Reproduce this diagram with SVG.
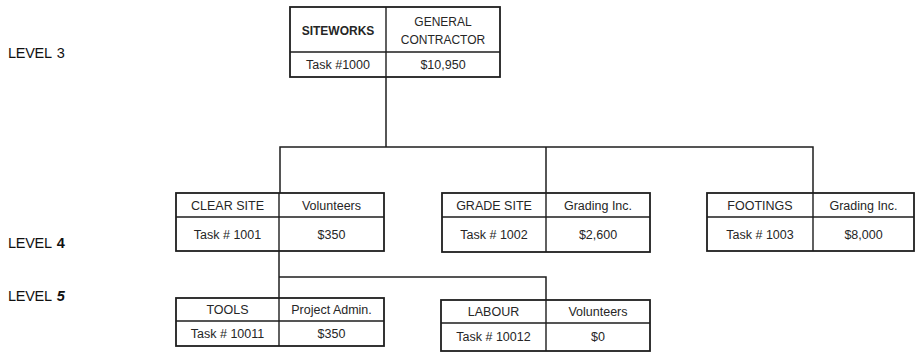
<svg xmlns="http://www.w3.org/2000/svg" width="916" height="357" viewBox="0 0 916 357">
  <style>
    .box { fill: #ffffff; stroke: #1e1e1e; stroke-width: 1.8; }
    .rule { stroke: #1e1e1e; stroke-width: 1.4; fill: none; }
    .wire { stroke: #1e1e1e; stroke-width: 1.5; fill: none; }
    .t { font-family: "Liberation Sans", Arial, sans-serif; font-size: 12.5px; fill: #262626; text-anchor: middle; }
    .tb { font-weight: bold; font-size: 12px; }
    .s12 { font-size: 12px; }
    .lvl { font-family: "Liberation Sans", Arial, sans-serif; font-size: 14.5px; fill: #111; letter-spacing: -0.3px; word-spacing: 2px; }
  </style>
  <rect x="0" y="0" width="916" height="357" fill="#ffffff"/>

  <!-- level labels -->
  <text class="lvl" x="8" y="58">LEVEL 3</text>
  <text class="lvl" x="8" y="248">LEVEL <tspan font-weight="bold">4</tspan></text>
  <text class="lvl" x="8" y="301">LEVEL <tspan font-weight="bold" font-style="italic">5</tspan></text>

  <!-- connectors -->
  <g id="connectors">
    <path class="wire" d="M386 77 V147"/>
    <path class="wire" d="M280 193 V147 H813 V193"/>
    <path class="wire" d="M546 147 V193"/>
    <path class="wire" d="M279 251 V298"/>
    <path class="wire" d="M279 277 H546 V300"/>
  </g>

  <!-- level 3 -->
  <g id="siteworks">
    <rect class="box" x="290" y="7" width="210" height="70"/>
    <path class="rule" d="M386 7 V77 M290 52 H500"/>
    <text class="t tb" x="338" y="35">SITEWORKS</text>
    <text class="t s12" x="443" y="26">GENERAL</text>
    <text class="t s12" x="443" y="44">CONTRACTOR</text>
    <text class="t" x="338" y="69">Task #1000</text>
    <text class="t" x="443" y="69">$10,950</text>
  </g>

  <!-- level 4 -->
  <g id="clear-site">
    <rect class="box" x="176" y="193" width="208" height="58"/>
    <path class="rule" d="M279 193 V251 M176 217 H384"/>
    <text class="t" x="227.5" y="210">CLEAR SITE</text>
    <text class="t" x="331.5" y="210">Volunteers</text>
    <text class="t" x="227.5" y="239">Task # 1001</text>
    <text class="t" x="331.5" y="239">$350</text>
  </g>

  <g id="grade-site">
    <rect class="box" x="442" y="193" width="208" height="59"/>
    <path class="rule" d="M546 193 V252 M442 217 H650"/>
    <text class="t" x="494" y="210">GRADE SITE</text>
    <text class="t" x="598" y="210">Grading Inc.</text>
    <text class="t" x="494" y="239">Task # 1002</text>
    <text class="t" x="598" y="239">$2,600</text>
  </g>

  <g id="footings">
    <rect class="box" x="707" y="193" width="207" height="58"/>
    <path class="rule" d="M813 193 V251 M707 217 H914"/>
    <text class="t" x="760" y="210">FOOTINGS</text>
    <text class="t" x="863.5" y="210">Grading Inc.</text>
    <text class="t" x="760" y="239">Task # 1003</text>
    <text class="t" x="863.5" y="239">$8,000</text>
  </g>

  <!-- level 5 -->
  <g id="tools">
    <rect class="box" x="176" y="298" width="208" height="48"/>
    <path class="rule" d="M279 298 V346 M176 321 H384"/>
    <text class="t" x="227.5" y="314">TOOLS</text>
    <text class="t" x="331.5" y="314">Project Admin.</text>
    <text class="t" x="227.5" y="338">Task # 10011</text>
    <text class="t" x="331.5" y="338">$350</text>
  </g>

  <g id="labour">
    <rect class="box" x="441" y="300" width="209" height="51"/>
    <path class="rule" d="M546 300 V351 M441 323 H650"/>
    <text class="t" x="493.5" y="316">LABOUR</text>
    <text class="t" x="598" y="316">Volunteers</text>
    <text class="t" x="493.5" y="341">Task # 10012</text>
    <text class="t" x="598" y="341">$0</text>
  </g>
</svg>
